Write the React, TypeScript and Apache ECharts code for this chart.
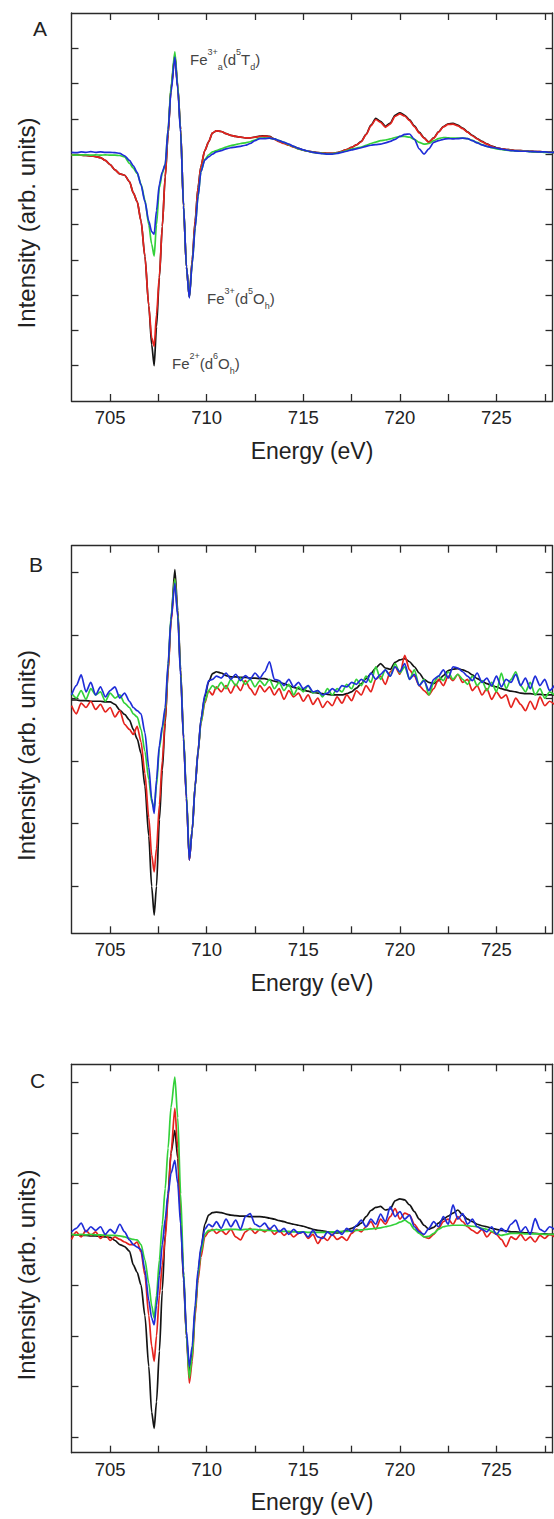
import React, { useEffect, useRef } from "react";
import * as echarts from "echarts";

// Energy grid (eV), shared by the three panels
const ENERGY = [
  703, 703.25, 703.5, 703.75, 704, 704.25, 704.5, 704.75, 705, 705.25, 705.5, 705.75,
  706, 706.2, 706.4, 706.6, 706.8, 707, 707.15, 707.28, 707.4, 707.55,
  707.7, 707.85, 708, 708.15, 708.35, 708.5, 708.65, 708.8, 708.95, 709.1,
  709.25, 709.4, 709.55, 709.7, 709.9, 710.1, 710.3, 710.5,
  710.75, 711, 711.25, 711.5, 711.75, 712, 712.25, 712.5, 712.75, 713,
  713.25, 713.5, 713.75, 714, 714.25, 714.5, 714.75, 715, 715.25, 715.5,
  715.75, 716, 716.25, 716.5, 716.75, 717, 717.25, 717.5, 717.75, 718,
  718.25, 718.5, 718.75, 719, 719.25, 719.5, 719.75, 720, 720.25, 720.5,
  720.75, 721, 721.25, 721.5, 721.75, 722, 722.25, 722.5, 722.75, 723,
  723.25, 723.5, 723.75, 724, 724.25, 724.5, 724.75, 725, 725.25, 725.5,
  725.75, 726, 726.25, 726.5, 726.75, 727, 727.25, 727.5, 727.75, 728,
];

// ---------- Panel A ----------
const A_BLACK = [
  -0.03, -0.03, -0.03, -0.04, -0.05, -0.07, -0.1, -0.18, -0.3, -0.45, -0.56, -0.6,
  -0.78, -1.1, -1.35, -1.9, -2.9, -4.3, -5.4, -6.0, -4.9, -3.5,
  -2.05, -0.65, 0.55, 1.85, 2.8, 1.9, 0.7, -1.5, -3.2, -4.05,
  -3.0, -1.9, -0.95, -0.35, 0.1, 0.35, 0.6, 0.66,
  0.64, 0.58, 0.53, 0.5, 0.48, 0.46, 0.46, 0.48, 0.51, 0.52,
  0.5, 0.43, 0.36, 0.31, 0.26, 0.21, 0.16, 0.11, 0.08, 0.06,
  0.04, 0.03, 0.02, 0.02, 0.04, 0.08, 0.13, 0.19, 0.26, 0.36,
  0.56, 0.82, 1.01, 0.93, 0.79, 0.88, 1.1, 1.17, 1.1, 0.97,
  0.8, 0.62, 0.46, 0.34, 0.46, 0.63, 0.78, 0.86, 0.87, 0.82,
  0.74, 0.63, 0.53, 0.44, 0.36, 0.29, 0.23, 0.18, 0.15, 0.13,
  0.12, 0.1, 0.1, 0.09, 0.08, 0.07, 0.07, 0.06, 0.06, 0.05,
];
const A_RED = [
  -0.03, -0.03, -0.03, -0.04, -0.05, -0.07, -0.1, -0.18, -0.3, -0.45, -0.56, -0.6,
  -0.78, -1.1, -1.35, -1.9, -2.9, -4.3, -5.2, -5.45, -4.55, -3.45,
  -2.05, -0.65, 0.55, 1.85, 2.8, 1.9, 0.7, -1.5, -3.2, -4.05,
  -3.0, -1.9, -0.95, -0.35, 0.1, 0.35, 0.6, 0.66,
  0.64, 0.58, 0.53, 0.5, 0.48, 0.46, 0.46, 0.48, 0.5, 0.51,
  0.49, 0.42, 0.35, 0.3, 0.25, 0.2, 0.15, 0.11, 0.08, 0.06,
  0.04, 0.03, 0.02, 0.02, 0.04, 0.08, 0.13, 0.19, 0.26, 0.35,
  0.55, 0.8, 0.98, 0.9, 0.76, 0.85, 1.07, 1.14, 1.08, 0.95,
  0.78, 0.6, 0.45, 0.33, 0.45, 0.62, 0.77, 0.84, 0.85, 0.8,
  0.72, 0.62, 0.52, 0.43, 0.35, 0.28, 0.22, 0.17, 0.15, 0.13,
  0.12, 0.1, 0.1, 0.09, 0.08, 0.07, 0.07, 0.06, 0.06, 0.05,
];
const A_GREEN = [
  -0.02, -0.03, -0.02, -0.02, -0.03, -0.02, -0.03, -0.02, -0.03, -0.03, -0.04, -0.08,
  -0.26, -0.4, -0.55, -0.85, -1.3, -2.0, -2.55, -2.89, -2.0, -0.95,
  -0.55, -0.3, 0.7, 1.9, 2.9, 1.95, 0.65, -1.45, -3.2, -4.05,
  -3.1, -2.1, -1.2, -0.5, -0.15, -0.02, 0.06, 0.1,
  0.15, 0.2, 0.24, 0.27, 0.3, 0.32, 0.35, 0.4, 0.45, 0.46,
  0.45, 0.43, 0.38, 0.33, 0.27, 0.21, 0.15, 0.11, 0.08, 0.05,
  0.03, 0.02, 0.01, 0.01, 0.03, 0.06, 0.1, 0.14, 0.17, 0.2,
  0.25, 0.3, 0.34, 0.38, 0.4, 0.43, 0.47, 0.5, 0.5, 0.48,
  0.42, 0.33, 0.28, 0.3, 0.38, 0.44, 0.47, 0.46, 0.45, 0.45,
  0.45, 0.44, 0.39, 0.33, 0.27, 0.22, 0.18, 0.15, 0.13, 0.11,
  0.1, 0.09, 0.08, 0.08, 0.07, 0.06, 0.06, 0.05, 0.05, 0.05,
];
const A_BLUE = [
  0.05, 0.04, 0.06, 0.05, 0.07, 0.05, 0.06, 0.05, 0.05, 0.04, 0.02, -0.05,
  -0.18, -0.33, -0.52, -0.88, -1.35, -1.9, -2.2, -2.27, -1.6, -0.85,
  -0.5, -0.3, 0.7, 1.75, 2.75, 1.85, 0.6, -1.45, -3.2, -4.08,
  -3.1, -2.1, -1.2, -0.5, -0.17, -0.08, 0.0, 0.06,
  0.1, 0.15, 0.18, 0.2, 0.22, 0.25, 0.3, 0.38, 0.44, 0.44,
  0.45, 0.43, 0.38, 0.33, 0.28, 0.22, 0.16, 0.12, 0.08, 0.05,
  0.03, 0.01, 0.0, 0.0, 0.02, 0.05, 0.08, 0.12, 0.15, 0.18,
  0.22, 0.25, 0.27, 0.28, 0.32, 0.36, 0.42, 0.5, 0.56, 0.57,
  0.42, 0.15, 0.0, 0.15, 0.33, 0.38, 0.42, 0.44, 0.43, 0.44,
  0.45, 0.44, 0.38, 0.32, 0.26, 0.22, 0.19, 0.17, 0.14, 0.12,
  0.1, 0.09, 0.08, 0.08, 0.07, 0.07, 0.06, 0.06, 0.05, 0.05,
];

// ---------- Panel B ----------
const B_BLACK = [
  -0.03, -0.03, -0.04, -0.04, -0.05, -0.05, -0.05, -0.06, -0.06, -0.1, -0.19, -0.26,
  -0.35, -0.5, -0.65, -0.88, -1.4, -2.2, -3.0, -3.46, -3.0, -1.94,
  -1.15, -0.4, 0.45, 1.24, 2.05, 1.4, 0.45, -0.62, -1.57, -2.58,
  -2.1, -1.41, -0.88, -0.35, 0.02, 0.26, 0.39, 0.42,
  0.4, 0.36, 0.34, 0.34, 0.33, 0.33, 0.32, 0.32, 0.31, 0.31,
  0.29, 0.27, 0.25, 0.23, 0.2, 0.17, 0.15, 0.13, 0.11, 0.09,
  0.08, 0.07, 0.06, 0.05, 0.05, 0.05, 0.07, 0.1, 0.16, 0.23,
  0.31, 0.39, 0.48, 0.55, 0.48, 0.46, 0.57, 0.61, 0.63, 0.58,
  0.5, 0.4, 0.3, 0.25, 0.23, 0.28, 0.36, 0.44, 0.46, 0.47,
  0.45, 0.42, 0.37, 0.31, 0.27, 0.23, 0.2, 0.18, 0.15, 0.13,
  0.11, 0.1, 0.08, 0.07, 0.07, 0.06, 0.06, 0.05, 0.05, 0.05,
];
const B_RED = [
  -0.12, -0.25, -0.08, -0.15, -0.05, -0.18, -0.1, -0.22, -0.15, -0.3, -0.2, -0.42,
  -0.5, -0.58, -0.45, -0.7, -1.2, -1.9, -2.5, -2.77, -2.4, -1.7,
  -1.0, -0.35, 0.4, 1.2, 1.9, 1.35, 0.4, -0.65, -1.6, -2.58,
  -2.1, -1.4, -0.85, -0.4, -0.08, 0.12, 0.05, 0.18,
  0.1, 0.2, 0.08, 0.22, 0.12, 0.28, 0.15, 0.05, 0.2, 0.1,
  0.18, 0.05, 0.15, -0.02, 0.12, 0.02, 0.08, -0.05, 0.05, -0.1,
  0.0, -0.15, -0.05, -0.12, 0.02, -0.08, 0.05, -0.04, 0.12, 0.05,
  0.2, 0.1, 0.3, 0.35, 0.22, 0.42, 0.5, 0.38, 0.68, 0.45,
  0.35, 0.2, 0.12, 0.05, 0.15, 0.3, 0.2, 0.35, 0.28, 0.38,
  0.25, 0.3, 0.12, 0.2, 0.05, 0.15, -0.02, 0.1, 0.0, 0.05,
  -0.15, 0.0, -0.1, -0.2, -0.05, -0.18, 0.02, -0.12, -0.05, -0.1,
];
const B_GREEN = [
  0.08, 0.0, 0.12, -0.02, 0.15, 0.05, 0.1, -0.05, 0.08, 0.0, 0.05, -0.08,
  -0.15, -0.25, -0.3, -0.5, -0.85, -1.3, -1.65, -1.75, -1.4, -0.8,
  -0.5, -0.2, 0.5, 1.3, 1.9, 1.35, 0.4, -0.62, -1.55, -2.55,
  -2.1, -1.4, -0.85, -0.4, -0.05, 0.12, 0.2, 0.15,
  0.25, 0.15, 0.3, 0.2, 0.32, 0.22, 0.3, 0.18, 0.28, 0.2,
  0.3, 0.15, 0.25, 0.12, 0.22, 0.05, 0.18, 0.1, 0.2, 0.08,
  0.12, 0.02, 0.15, 0.05, 0.15, 0.1, 0.22, 0.15, 0.3, 0.2,
  0.35, 0.25, 0.5, 0.3, 0.45, 0.35, 0.55, 0.4, 0.5, 0.3,
  0.45, 0.2, 0.3, 0.05, 0.25, 0.35, 0.28, 0.42, 0.3, 0.38,
  0.3, 0.22, 0.35, 0.2, 0.28, 0.12, 0.25, 0.1, 0.4, 0.15,
  0.3, 0.42, 0.2, 0.1, 0.25, 0.05, 0.15, 0.0, 0.1, 0.05,
];
const B_BLUE = [
  0.05, 0.2, 0.37, 0.1, 0.25, 0.05, 0.18, 0.02, 0.12, 0.18, 0.0, 0.08,
  -0.05, -0.15, -0.2, -0.25, -0.55, -1.1, -1.6, -1.84, -1.3, -0.75,
  -0.45, -0.15, 0.55, 1.25, 1.83, 1.3, 0.35, -0.65, -1.6, -2.58,
  -2.1, -1.4, -0.85, -0.35, 0.05, 0.28, 0.3, 0.35,
  0.32, 0.4, 0.3, 0.38, 0.28, 0.36, 0.3, 0.4, 0.32, 0.42,
  0.58, 0.3, 0.28, 0.2, 0.3, 0.18, 0.25, 0.15, 0.2, 0.1,
  0.12, 0.05, 0.08, 0.15, 0.1, 0.2, 0.18, 0.25, 0.22, 0.3,
  0.25, 0.4, 0.3, 0.38, 0.45, 0.35, 0.5, 0.42, 0.55, 0.3,
  0.38, 0.2, 0.28, 0.12, 0.3, 0.35, 0.45, 0.32, 0.5, 0.48,
  0.42, 0.35, 0.28, 0.4, 0.25, 0.32, 0.2, 0.35, 0.18, 0.3,
  0.25, 0.38, 0.2, 0.32, 0.15, 0.35, 0.2, 0.3, 0.12, 0.2,
];

// ---------- Panel C ----------
const C_BLACK = [
  -0.01, -0.01, -0.02, -0.02, -0.03, -0.03, -0.04, -0.05, -0.06, -0.12, -0.2, -0.24,
  -0.33, -0.6, -0.75, -1.0, -1.6, -2.6, -3.5, -3.82, -3.3, -2.3,
  -1.1, 0.0, 0.8, 1.6, 2.05, 1.5, 0.3, -0.9, -2.0, -2.75,
  -2.3, -1.5, -0.8, -0.3, 0.2, 0.38, 0.43, 0.44,
  0.43, 0.4, 0.38, 0.37, 0.36, 0.36, 0.35, 0.35, 0.35, 0.34,
  0.32, 0.3, 0.27, 0.25, 0.22, 0.2, 0.18, 0.16, 0.13, 0.1,
  0.08, 0.07, 0.05, 0.04, 0.03, 0.05, 0.08, 0.12, 0.16, 0.22,
  0.35, 0.47, 0.53, 0.55, 0.48, 0.5, 0.66, 0.7, 0.68, 0.58,
  0.45, 0.3, 0.18, 0.1, 0.14, 0.22, 0.3, 0.36, 0.42, 0.48,
  0.38, 0.3, 0.25, 0.2, 0.17, 0.15, 0.12, 0.1, 0.08, 0.07,
  0.05, 0.05, 0.04, 0.03, 0.03, 0.02, 0.01, 0.01, 0.0, 0.0,
];
const C_RED = [
  -0.1, 0.05, -0.05, 0.08, -0.02, 0.05, -0.08, 0.0, -0.12, -0.05, -0.1, -0.15,
  -0.2, -0.2, -0.15, -0.35, -0.8, -1.6, -2.2, -2.5, -2.0, -1.2,
  -0.6, -0.1, 0.7, 1.6, 2.48, 1.7, 0.4, -0.8, -2.0, -2.93,
  -2.5, -1.6, -0.9, -0.45, -0.05, 0.05, 0.1, 0.02,
  0.08, 0.0, 0.1, -0.05, -0.11, 0.05, 0.12, 0.02, 0.1, 0.05,
  0.12, 0.0, 0.08, -0.02, 0.05, -0.05, 0.02, 0.05, -0.08, 0.0,
  -0.18, -0.05, -0.12, 0.0, -0.1, -0.05, -0.12, 0.02, 0.1, 0.05,
  0.15, 0.25, 0.1, 0.3, 0.2, 0.35, 0.51, 0.3, 0.42, 0.38,
  0.2, 0.08, -0.05, -0.08, 0.0, 0.12, 0.25, 0.3, 0.2, 0.35,
  0.25, 0.15, 0.08, 0.02, 0.1, -0.05, 0.05, 0.0, -0.1, -0.24,
  -0.05, -0.1, 0.0, -0.12, -0.05, -0.15, -0.02, -0.08, 0.0, -0.05,
];
const C_GREEN = [
  0.0, -0.01, 0.0, -0.01, 0.0, -0.01, -0.01, -0.02, -0.02, -0.02, -0.03, -0.05,
  -0.08, -0.1, -0.11, -0.2, -0.5, -0.96, -1.4, -1.65, -1.2, -0.5,
  0.2, 0.9, 1.7, 2.5, 3.1, 2.3, 0.8, -0.7, -2.0, -2.83,
  -2.4, -1.5, -0.8, -0.35, 0.0, 0.08, 0.08, 0.1,
  0.08, 0.1, 0.1, 0.1, 0.09, 0.1, 0.1, 0.1, 0.09, 0.08,
  0.08, 0.07, 0.07, 0.06, 0.06, 0.05, 0.05, 0.05, 0.04, 0.04,
  0.04, 0.04, 0.04, 0.05, 0.05, 0.06, 0.06, 0.07, 0.08, 0.09,
  0.1, 0.11, 0.12, 0.13, 0.15, 0.17, 0.2, 0.24, 0.28, 0.22,
  0.1, 0.02, -0.05, -0.04, 0.02, 0.1, 0.15, 0.17, 0.18, 0.18,
  0.18, 0.17, 0.16, 0.15, 0.12, 0.1, 0.06, 0.02, -0.02, 0.0,
  0.02, 0.02, 0.02, 0.01, 0.01, 0.01, 0.01, 0.0, 0.0, 0.0,
];
const C_BLUE = [
  0.05, 0.12, 0.22, 0.05, 0.15, 0.08, 0.15, 0.0, 0.1, 0.02, 0.2, 0.05,
  -0.11, -0.2, -0.25, -0.3, -0.7, -1.3, -1.65, -1.78, -1.4, -0.8,
  -0.2, 0.3, 0.8, 1.2, 1.46, 1.0, 0.2, -0.8, -1.9, -2.6,
  -2.2, -1.4, -0.7, -0.25, 0.1, 0.2, 0.15, 0.25,
  0.12, 0.3, 0.15, 0.28, 0.1, 0.35, 0.41, 0.2, 0.15, 0.22,
  0.1, 0.18, 0.05, 0.12, 0.0, 0.1, 0.02, 0.05, -0.05, 0.08,
  -0.05, -0.08, 0.05, -0.02, 0.08, 0.0, 0.12, 0.05, 0.18, 0.28,
  0.15, 0.3, 0.2, 0.4, 0.25, 0.54, 0.35, 0.45, 0.3, 0.38,
  0.15, 0.05, 0.0, 0.12, 0.25, 0.15, 0.35, 0.2, 0.58, 0.3,
  0.41, 0.2, 0.3, 0.15, 0.1, 0.05, 0.15, 0.0, 0.12, 0.05,
  0.2, 0.28, 0.05, 0.15, 0.0, 0.31, 0.1, 0.05, 0.15, 0.1,
];

// ---------- Axes ticks ----------
const X_MIN = 703;
const X_MAX = 727.9;
const X_TICKS = [705, 707.5, 710, 712.5, 715, 717.5, 720, 722.5, 725, 727.5];
const X_LABELS = [705, 710, 715, 720, 725];
const Y_RANGE_A = [-7, 4];
const Y_RANGE_B = [-3.75, 2.43];
const Y_RANGE_C = [-4.3, 3.35];
const Y_TICKS_A = [-6, -5, -4, -3, -2, -1, 0, 1, 2, 3];
const Y_TICKS_B = [-3, -2, -1, 0, 1, 2];
const Y_TICKS_C = [-4, -3, -2, -1, 0, 1, 2, 3];

const PANEL_LETTERS = ["A", "B", "C"];
const X_TITLE = "Energy (eV)";
const Y_TITLE = "Intensity (arb. units)";
const SERIES_COLORS = ["#141414", "#e5231e", "#33d13a", "#1f2dd8"];

const FONT = "'Liberation Sans', Arial, Helvetica, sans-serif";
const AXIS_COLOR = "#2a2a2a";
const TEXT_COLOR = "#222";

const GRIDS = [
  { left: 71.5, top: 13, width: 481, height: 388 },
  { left: 71.5, top: 545.7, width: 481, height: 387.6 },
  { left: 71.5, top: 1064.3, width: 481, height: 388.4 },
];

function App() {
  const ref = useRef<HTMLDivElement | null>(null);

  useEffect(() => {
    if (!ref.current) return;
    const chart = echarts.init(ref.current, null, { renderer: "svg" });

    const panels = [
      { range: Y_RANGE_A, ticks: Y_TICKS_A, data: [A_BLACK, A_RED, A_GREEN, A_BLUE] },
      { range: Y_RANGE_B, ticks: Y_TICKS_B, data: [B_BLACK, B_RED, B_GREEN, B_BLUE] },
      { range: Y_RANGE_C, ticks: Y_TICKS_C, data: [C_BLACK, C_RED, C_GREEN, C_BLUE] },
    ];

    const axisLine = { show: true, onZero: false, lineStyle: { color: AXIS_COLOR, width: 1.4 } };
    const tick = (values: number[], len: number) => ({
      show: true,
      inside: true,
      length: len,
      customValues: values,
      lineStyle: { color: AXIS_COLOR, width: 1.3 },
    });

    const xAxis: any[] = [];
    const yAxis: any[] = [];
    const series: any[] = [];

    panels.forEach((p, gi) => {
      xAxis.push({
        type: "value",
        gridIndex: gi,
        position: "bottom",
        min: X_MIN,
        max: X_MAX,
        axisLine,
        axisTick: tick(X_TICKS, 7),
        axisLabel: {
          show: true,
          customValues: X_LABELS,
          margin: 7,
          fontSize: 18.5,
          fontFamily: FONT,
          color: TEXT_COLOR,
        },
        splitLine: { show: false },
        name: X_TITLE,
        nameLocation: "middle",
        nameGap: 38,
        nameTextStyle: { fontSize: 23, fontFamily: FONT, color: TEXT_COLOR },
      });
      xAxis.push({
        type: "value",
        gridIndex: gi,
        position: "top",
        min: X_MIN,
        max: X_MAX,
        axisLine,
        axisTick: tick(X_TICKS, 7),
        axisLabel: { show: false },
        splitLine: { show: false },
      });
      yAxis.push({
        type: "value",
        gridIndex: gi,
        position: "left",
        min: p.range[0],
        max: p.range[1],
        axisLine,
        axisTick: tick(p.ticks, 7),
        axisLabel: { show: false },
        splitLine: { show: false },
      });
      yAxis.push({
        type: "value",
        gridIndex: gi,
        position: "right",
        min: p.range[0],
        max: p.range[1],
        axisLine,
        axisTick: tick(p.ticks, 7),
        axisLabel: { show: false },
        splitLine: { show: false },
      });
      p.data.forEach((vals, si) => {
        series.push({
          type: "line",
          xAxisIndex: gi * 2,
          yAxisIndex: gi * 2,
          data: ENERGY.map((e, i) => [e, vals[i]]),
          showSymbol: false,
          symbol: "none",
          smooth: 0.25,
          smoothMonotone: "x",
          lineStyle: { color: SERIES_COLORS[si], width: 1.7 },
          z: 2 + si,
          silent: true,
        });
      });
    });

    const sup = { fontSize: 9, lineHeight: 9, verticalAlign: "top", fontFamily: FONT, fill: "#444" };
    const sub = { fontSize: 9, lineHeight: 9, verticalAlign: "bottom", fontFamily: FONT, fill: "#444" };
    const m = { fontSize: 15, lineHeight: 24, fontFamily: FONT, fill: "#444" };
    const rich = { m, sup, sub };

    const graphic: any[] = [
      { type: "text", x: 40, y: 28, style: { text: PANEL_LETTERS[0], fontSize: 21, fontFamily: FONT, fill: TEXT_COLOR, align: "center", verticalAlign: "middle" } },
      { type: "text", x: 36, y: 564, style: { text: PANEL_LETTERS[1], fontSize: 21, fontFamily: FONT, fill: TEXT_COLOR, align: "center", verticalAlign: "middle" } },
      { type: "text", x: 37.5, y: 1080, style: { text: PANEL_LETTERS[2], fontSize: 21, fontFamily: FONT, fill: TEXT_COLOR, align: "center", verticalAlign: "middle" } },
      { type: "text", x: 26, y: 223, rotation: Math.PI / 2, style: { text: Y_TITLE, fontSize: 24, fontFamily: FONT, fill: TEXT_COLOR, align: "center", verticalAlign: "middle" } },
      { type: "text", x: 26, y: 755.5, rotation: Math.PI / 2, style: { text: Y_TITLE, fontSize: 24, fontFamily: FONT, fill: TEXT_COLOR, align: "center", verticalAlign: "middle" } },
      { type: "text", x: 26, y: 1275, rotation: Math.PI / 2, style: { text: Y_TITLE, fontSize: 24, fontFamily: FONT, fill: TEXT_COLOR, align: "center", verticalAlign: "middle" } },
      {
        type: "text", x: 190, y: 59.5, z: 100,
        style: { text: "{m|Fe}{sup|3+}{sub|a}{m|(d}{sup|5}{m|T}{sub|d}{m|)}", rich, align: "left", verticalAlign: "middle" },
      },
      {
        type: "text", x: 207, y: 298, z: 100,
        style: { text: "{m|Fe}{sup|3+}{m|(d}{sup|5}{m|O}{sub|h}{m|)}", rich, align: "left", verticalAlign: "middle" },
      },
      {
        type: "text", x: 172, y: 363.5, z: 100,
        style: { text: "{m|Fe}{sup|2+}{m|(d}{sup|6}{m|O}{sub|h}{m|)}", rich, align: "left", verticalAlign: "middle" },
      },
    ];

    chart.setOption({
      animation: false,
      backgroundColor: "#ffffff",
      grid: GRIDS.map((g) => ({ ...g, containLabel: false, outerBoundsMode: "none" })),
      xAxis,
      yAxis,
      series,
      graphic,
    });

    return () => chart.dispose();
  }, []);

  return (
    <div
      ref={ref}
      style={{ position: "absolute", left: 0, top: 0, width: 554, height: 1519, background: "#fff" }}
    />
  );
}

export default App;
